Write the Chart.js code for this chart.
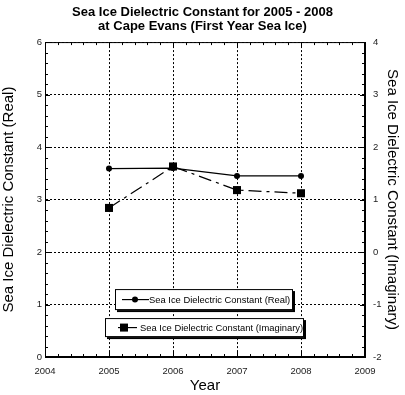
<!DOCTYPE html>
<html>
<head>
<meta charset="utf-8">
<script src="https://cdn.jsdelivr.net/npm/chart.js@4/dist/chart.umd.min.js"></script>
<style>
html,body{margin:0;padding:0;background:#fff;}
#wrap{width:405px;height:395px;position:relative;}
</style>
</head>
<body>
<div id="wrap"><canvas id="c" width="405" height="395"></canvas></div>
<script>
const years = [2005, 2006, 2007, 2008];
const realValues = [3.59, 3.60, 3.45, 3.45];
const imagValues = [0.84, 1.63, 1.18, 1.12];
const titleLines = ['Sea Ice Dielectric Constant for 2005 - 2008', 'at Cape Evans (First Year Sea Ice)'];
const realLabel = 'Sea Ice Dielectric Constant (Real)';
const imagLabel = 'Sea Ice Dielectric Constant (Imaginary)';
const xTitle = 'Year';

const FONT = '"Liberation Sans", Arial, Helvetica, sans-serif';
const isInt = v => Math.abs(v - Math.round(v)) < 1e-6;

const frameTicks = {
  id: 'frameTicks',
  afterDatasetsDraw(chart) {
    const {ctx, chartArea: a} = chart;
    ctx.save();
    ctx.strokeStyle = '#000';
    ctx.lineWidth = 1;
    ctx.strokeRect(a.left + 0.5, a.top + 0.5, a.right - a.left - 1, a.bottom - a.top - 1);
    const x = chart.scales.x, y = chart.scales.y, y2 = chart.scales.y2;
    ctx.beginPath();
    x.ticks.forEach(t => {
      const p = Math.round(x.getPixelForValue(t.value)) + 0.5;
      const l = isInt(t.value) ? 5 : 3;
      ctx.moveTo(p, a.bottom); ctx.lineTo(p, a.bottom - l);
      ctx.moveTo(p, a.top); ctx.lineTo(p, a.top + l);
    });
    y.ticks.forEach(t => {
      const p = Math.round(y.getPixelForValue(t.value)) + 0.5;
      const l = isInt(t.value) ? 5 : 3;
      ctx.moveTo(a.left, p); ctx.lineTo(a.left + l, p);
    });
    y2.ticks.forEach(t => {
      const p = Math.round(y2.getPixelForValue(t.value)) + 0.5;
      const l = isInt(t.value) ? 5 : 3;
      ctx.moveTo(a.right, p); ctx.lineTo(a.right - l, p);
    });
    ctx.stroke();
    ctx.restore();
  },
  afterDraw(chart) {
    const {ctx, chartArea: a} = chart;
    const ds = chart.data.datasets;
    ctx.save();
    ctx.font = '9.4px ' + FONT;
    ctx.textBaseline = 'middle';
    const boxes = [
      {x: a.left + 70, y: a.top + 247, w: 178, h: 21, ds: 0, l1: 7, l2: 34, m: 20, tx: 34},
      {x: a.left + 60, y: a.top + 276, w: 199, h: 19, ds: 1, l1: 13, l2: 32, m: 19, tx: 35}
    ];
    boxes.forEach(b => {
      ctx.fillStyle = '#000';
      ctx.fillRect(b.x + 2, b.y + 2, b.w, b.h);
      ctx.fillStyle = '#fff';
      ctx.fillRect(b.x, b.y, b.w, b.h);
      ctx.strokeStyle = '#000';
      ctx.lineWidth = 1;
      ctx.strokeRect(b.x + 0.5, b.y + 0.5, b.w - 1, b.h - 1);
      const cy = b.y + b.h / 2;
      ctx.beginPath();
      ctx.moveTo(b.x + b.l1, cy); ctx.lineTo(b.x + b.l2, cy);
      ctx.lineWidth = 1.2;
      ctx.stroke();
      ctx.fillStyle = '#000';
      if (b.ds === 0) {
        ctx.beginPath(); ctx.arc(b.x + b.m, cy, 3, 0, Math.PI * 2); ctx.fill();
      } else {
        ctx.fillRect(b.x + b.m - 4, cy - 4, 8, 8);
      }
      ctx.fillStyle = '#000';
      ctx.fillText(ds[b.ds].label, b.x + b.tx, cy + 0.5);
    });
    ctx.restore();
  }
};

new Chart(document.getElementById('c'), {
  type: 'line',
  data: {
    datasets: [
      {
        label: realLabel,
        data: years.map((yr, i) => ({x: yr, y: realValues[i]})),
        yAxisID: 'y',
        borderColor: '#000',
        backgroundColor: '#000',
        borderWidth: 1.2,
        pointStyle: 'circle',
        pointRadius: 3,
        pointBorderWidth: 0,
        tension: 0
      },
      {
        label: imagLabel,
        data: years.map((yr, i) => ({x: yr, y: imagValues[i]})),
        yAxisID: 'y2',
        borderColor: '#000',
        backgroundColor: '#000',
        borderWidth: 1.2,
        borderDash: [13, 5, 3, 5],
        pointStyle: 'rect',
        pointRadius: 5.7,
        pointBorderWidth: 0,
        tension: 0
      }
    ]
  },
  options: {
    responsive: false,
    animation: false,
    layout: {padding: {top: 0, bottom: 0, left: 0, right: 0}},
    plugins: {
      legend: {display: false},
      tooltip: {enabled: false},
      title: {
        display: true,
        text: titleLines,
        color: '#000',
        font: {family: FONT, size: 13, weight: 'bold', lineHeight: 1.08},
        padding: {top: 5, bottom: 9}
      }
    },
    scales: {
      x: {
        type: 'linear',
        min: 2004, max: 2009,
        afterBuildTicks: s => {
          const t = [];
          for (let i = 0; i <= 25; i++) t.push({value: 2004 + i * 0.2});
          s.ticks = t;
        },
        afterFit: s => { s.height = 38; },
        ticks: {
          autoSkip: false, maxRotation: 0, padding: 9,
          color: '#222',
          font: {family: FONT, size: 9.5},
          callback: v => isInt(v) ? String(Math.round(v)) : ''
        },
        grid: {
          drawTicks: false,
          color: c => (c.tick && isInt(c.tick.value)) ? '#000' : 'rgba(0,0,0,0)',
          lineWidth: 1
        },
        border: {display: true, color: '#000', width: 1, dash: [2, 2]},
        title: {display: true, text: xTitle, color: '#000', font: {family: FONT, size: 15}, padding: {top: 1, bottom: 0}}
      },
      y: {
        type: 'linear', position: 'left',
        min: 0, max: 6,
        afterBuildTicks: s => {
          const t = [];
          for (let i = 0; i <= 30; i++) t.push({value: i * 0.2});
          s.ticks = t;
        },
        afterFit: s => { s.width = 45; },
        ticks: {
          autoSkip: false, padding: 3,
          color: '#222',
          font: {family: FONT, size: 9.5},
          callback: v => isInt(v) ? String(Math.round(v)) : ''
        },
        grid: {
          drawTicks: false,
          color: c => (c.tick && isInt(c.tick.value)) ? '#000' : 'rgba(0,0,0,0)',
          lineWidth: 1
        },
        border: {display: true, color: '#000', width: 1, dash: [2, 2]},
        title: {display: true, text: realLabel, color: '#000', font: {family: FONT, size: 15}, padding: {top: 0, bottom: 4}}
      },
      y2: {
        type: 'linear', position: 'right',
        min: -2, max: 4,
        afterBuildTicks: s => {
          const t = [];
          for (let i = 0; i <= 30; i++) t.push({value: -2 + i * 0.2});
          s.ticks = t;
        },
        afterFit: s => { s.width = 40; },
        ticks: {
          autoSkip: false, padding: 8,
          color: '#222',
          font: {family: FONT, size: 9.5},
          callback: v => isInt(v) ? String(Math.round(v)) : ''
        },
        grid: {drawOnChartArea: false, drawTicks: false},
        border: {display: true, color: '#000', width: 1},
        title: {display: true, text: imagLabel, color: '#000', font: {family: FONT, size: 15}, padding: {top: 4, bottom: 0}}
      }
    }
  },
  plugins: [frameTicks]
});
</script>
</body>
</html>
